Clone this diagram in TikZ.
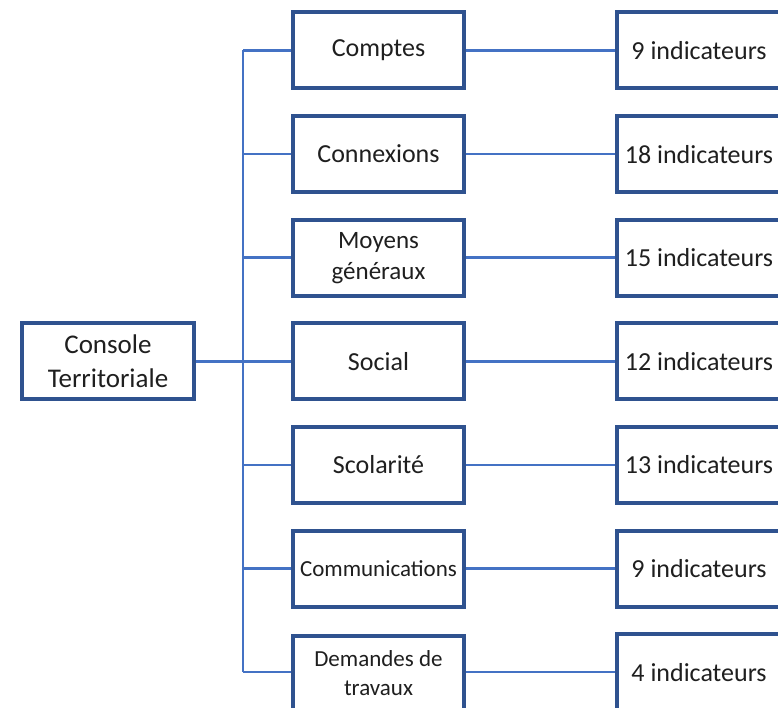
\documentclass[tikz,border=0pt]{standalone}
\usepackage{fontspec}
\setmainfont{Carlito}
\definecolor{boxblue}{HTML}{2F528F}
\definecolor{lineblue}{HTML}{4472C4}
\begin{document}
\begin{tikzpicture}[x=1pt,y=-1pt,
  box/.style={draw=boxblue, line width=4pt, fill=white, minimum width=171pt, minimum height=76pt, inner sep=0pt, align=center, font=\fontsize{26}{31}\selectfont, text=black!88},
  rbox/.style={draw=boxblue, line width=4pt, fill=white, minimum width=164pt, minimum height=76pt, inner sep=0pt, font=\fontsize{26}{31}\selectfont, text=black!88},
  conn/.style={draw=lineblue, line width=2.6pt}]
\useasboundingbox (0,0) rectangle (778,708);
% bus coordinates
\coordinate (bt) at (243,50.5);
\coordinate (bb) at (243,672.1);
\coordinate (bm) at (243,361.3);
\draw[conn] (bt) -- (bb);
% root
\node[box, minimum width=172pt, font=\fontsize{27}{34}\selectfont] (root) at (108,361.3) {Console\\Territoriale};
\draw[conn] (root.east) -- (bm);
% middle boxes
\node[box] (m1) at (378.5,50.5) {Comptes};
\node[box] (m2) at (378.5,154.1) {Connexions};
\node[box, font=\fontsize{25}{31}\selectfont] (m3) at (378.5,257.7) {Moyens\\généraux};
\node[box] (m4) at (378.5,361.3) {Social};
\node[box] (m5) at (378.5,464.9) {Scolarité};
\node[box, font=\fontsize{23}{27}\selectfont] (m6) at (378.5,568.5) {Communications};
\node[box, font=\fontsize{23}{29}\selectfont] (m7) at (378.5,673.5) {Demandes de\\travaux};
% right boxes
\node[rbox] (r1) at (699,50.5) {9 indicateurs};
\node[rbox] (r2) at (699,154.1) {18 indicateurs};
\node[rbox] (r3) at (699,257.7) {15 indicateurs};
\node[rbox] (r4) at (699,361.3) {12 indicateurs};
\node[rbox] (r5) at (699,464.9) {13 indicateurs};
\node[rbox] (r6) at (699,568.5) {9 indicateurs};
\node[rbox] (r7) at (699,672.1) {4 indicateurs};
\foreach \i in {1,...,6} {
  \draw[conn] (m\i.west) -- (m\i.west -| bt);
  \draw[conn] (m\i.east) -- (r\i.west);
}
\draw[conn] (bb) -- (bb -| m7.west);
\draw[conn] (r7.west -| m7.east) -- (r7.west);
\end{tikzpicture}
\end{document}
